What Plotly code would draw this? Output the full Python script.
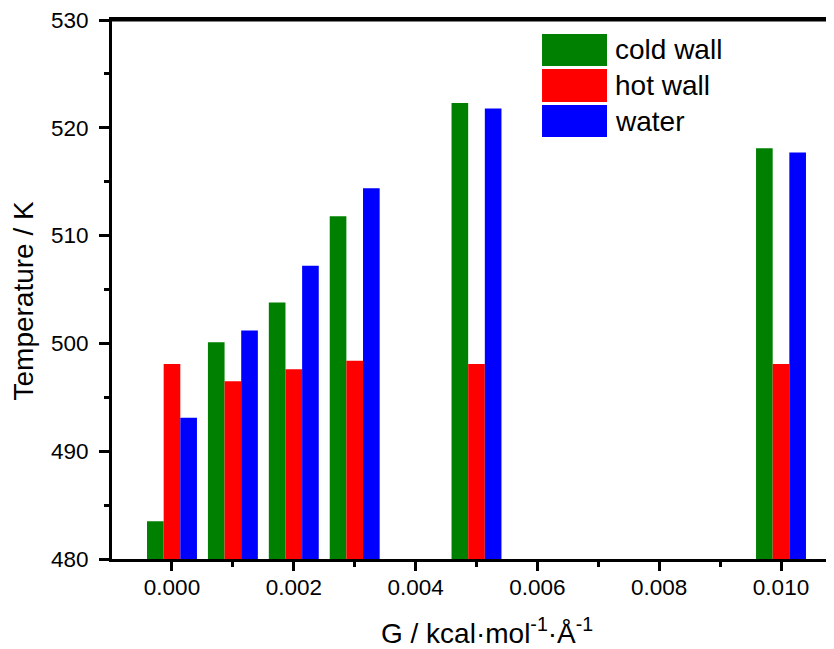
import plotly.graph_objects as go

G = [0.000, 0.001, 0.002, 0.003, 0.005, 0.010]
cold_wall = [483.5, 500.1, 503.8, 511.8, 522.3, 518.1]
hot_wall = [498.1, 496.5, 497.6, 498.4, 498.1, 498.1]
water = [493.1, 501.2, 507.2, 514.4, 521.8, 517.7]

series = [("cold wall", cold_wall, "#008000"),
          ("hot wall", hot_wall, "#FF0000"),
          ("water", water, "#0000FF")]

FONT = "Arial, 'Liberation Sans', sans-serif"

fig = go.Figure()
for name, vals, col in series:
    fig.add_trace(go.Bar(x=G, y=vals, name=name, marker_color=col,
                         marker_line_width=0, showlegend=False))

# custom legend (large swatches)
sw_x0, sw_x1 = 0.5956, 0.6856
rows = [(0.974, 0.9147), (0.9091, 0.8479), (0.8423, 0.7829)]
for (name, vals, col), (ya, yb) in zip(series, rows):
    fig.add_shape(type="rect", xref="paper", yref="paper",
                  x0=sw_x0, x1=sw_x1, y0=yb, y1=ya,
                  fillcolor=col, line_width=0)
    fig.add_annotation(xref="paper", yref="paper", x=0.694, y=(ya + yb) / 2,
                       text=name, showarrow=False, xanchor="left", yanchor="middle",
                       font=dict(family=FONT, size=28, color="black"))

# top frame line
fig.add_shape(type="line", xref="paper", yref="paper", x0=0, x1=1, y0=1, y1=1,
              line=dict(color="black", width=3))

# axis titles
fig.add_annotation(xref="paper", yref="paper", x=0.5194, y=-0.1345,
                   text="G / kcal·mol<sup>-1</sup>·Å<sup>-1</sup>", showarrow=False,
                   xanchor="center", yanchor="middle",
                   font=dict(family=FONT, size=28, color="black"))
fig.add_annotation(xref="paper", yref="paper", x=-0.1226, y=0.4805,
                   text="Temperature / K", showarrow=False, textangle=-90,
                   xanchor="center", yanchor="middle",
                   font=dict(family=FONT, size=28, color="black"))

fig.update_layout(
    width=826, height=641,
    margin=dict(l=104, r=0, t=12, b=90),
    plot_bgcolor="white", paper_bgcolor="white",
    barmode="group", bargap=0.18, bargroupgap=0,
    font=dict(family=FONT, color="black"),
)
fig.update_xaxes(
    range=[-0.000985, 0.01087], dtick=0.002, tick0=0, tickformat=".3f",
    showgrid=False, zeroline=False,
    showline=True, linecolor="black", linewidth=3, mirror=True,
    ticks="outside", ticklen=9, tickwidth=3, tickcolor="black",
    minor=dict(dtick=0.001, ticks="outside", ticklen=5, tickwidth=3, tickcolor="black"),
    tickfont=dict(size=22.5, family=FONT), ticklabelstandoff=-3,
    ticklabeloverflow="allow",
)
fig.update_yaxes(
    range=[480, 530], dtick=10, tick0=480,
    showgrid=False, zeroline=False,
    showline=True, linecolor="black", linewidth=3,
    ticks="outside", ticklen=10, tickwidth=3, tickcolor="black",
    minor=dict(dtick=5, ticks="outside", ticklen=5, tickwidth=3, tickcolor="black"),
    tickfont=dict(size=22.5, family=FONT), ticklabelstandoff=6,
    ticklabeloverflow="allow",
)

fig.write_html("out.html")
